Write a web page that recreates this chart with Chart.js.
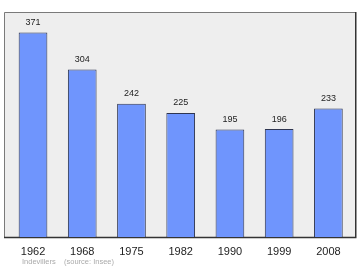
<!DOCTYPE html>
<html>
<head>
<meta charset="utf-8">
<script src="https://cdn.jsdelivr.net/npm/chart.js@4/dist/chart.umd.min.js"></script>
<style>
html,body{margin:0;padding:0;background:#fff;}
#wrap{width:360px;height:270px;position:relative;}
</style>
</head>
<body>
<div id="wrap"><canvas id="c" width="360" height="270"></canvas></div>
<script>
const categories = ["1962","1968","1975","1982","1990","1999","2008"];
const population = [371,304,242,225,195,196,233];
const footerPlace = "Indevillers";
const footerSource = "(source: Insee)";

const FONT = '"Liberation Sans", Arial, sans-serif';

const boxPlugin = {
  id: 'box',
  beforeDraw(chart) {
    const ctx = chart.ctx, a = chart.chartArea;
    const x0 = 4, x1 = 355.5, y0 = a.top, y1 = a.bottom;
    ctx.save();
    ctx.fillStyle = '#eeeeee';
    ctx.fillRect(x0, y0, x1 - x0, y1 - y0);
    ctx.strokeStyle = '#7a7a7a';
    ctx.lineWidth = 1;
    ctx.beginPath();
    ctx.moveTo(x0 + 0.5, y1);
    ctx.lineTo(x0 + 0.5, y0 + 0.5);
    ctx.lineTo(x1, y0 + 0.5);
    ctx.stroke();
    ctx.strokeStyle = '#333333';
    ctx.lineWidth = 1.5;
    ctx.beginPath();
    ctx.moveTo(x0, y1 + 0.25);
    ctx.lineTo(x1 + 0.25, y1 + 0.25);
    ctx.lineTo(x1 + 0.25, y0);
    ctx.stroke();
    ctx.restore();
  },
  afterDatasetsDraw(chart) {
    const ctx = chart.ctx;
    const meta = chart.getDatasetMeta(0);
    ctx.save();
    ctx.font = '9px ' + FONT;
    ctx.fillStyle = '#222222';
    ctx.textAlign = 'center';
    ctx.textBaseline = 'middle';
    meta.data.forEach((bar, i) => {
      ctx.fillText(String(chart.data.datasets[0].data[i]), bar.x, bar.y - 10);
    });
    ctx.font = '7.5px ' + FONT;
    ctx.fillStyle = '#aaaaaa';
    ctx.textAlign = 'left';
    ctx.fillText(footerPlace, 22, 262);
    ctx.fillText(footerSource, 64, 262);
    ctx.restore();
  }
};

new Chart(document.getElementById('c'), {
  type: 'bar',
  data: {
    labels: categories,
    datasets: [{
      data: population,
      backgroundColor: '#6f95fd',
      borderColor: '#2e3550',
      borderWidth: 1,
      categoryPercentage: 1,
      barPercentage: 0.583
    }]
  },
  options: {
    responsive: false,
    animation: false,
    devicePixelRatio: 1,
    layout: { padding: { left: 8.4, right: 7, top: 12, bottom: 3 } },
    plugins: { legend: { display: false }, tooltip: { enabled: false } },
    scales: {
      x: {
        grid: { display: false, drawTicks: false, tickLength: 0 },
        border: { display: false },
        ticks: { color: '#222222', font: { family: FONT, size: 11 }, padding: 8.3, maxRotation: 0 }
      },
      y: {
        display: false,
        min: 0,
        max: 408
      }
    }
  },
  plugins: [boxPlugin]
});
</script>
</body>
</html>
